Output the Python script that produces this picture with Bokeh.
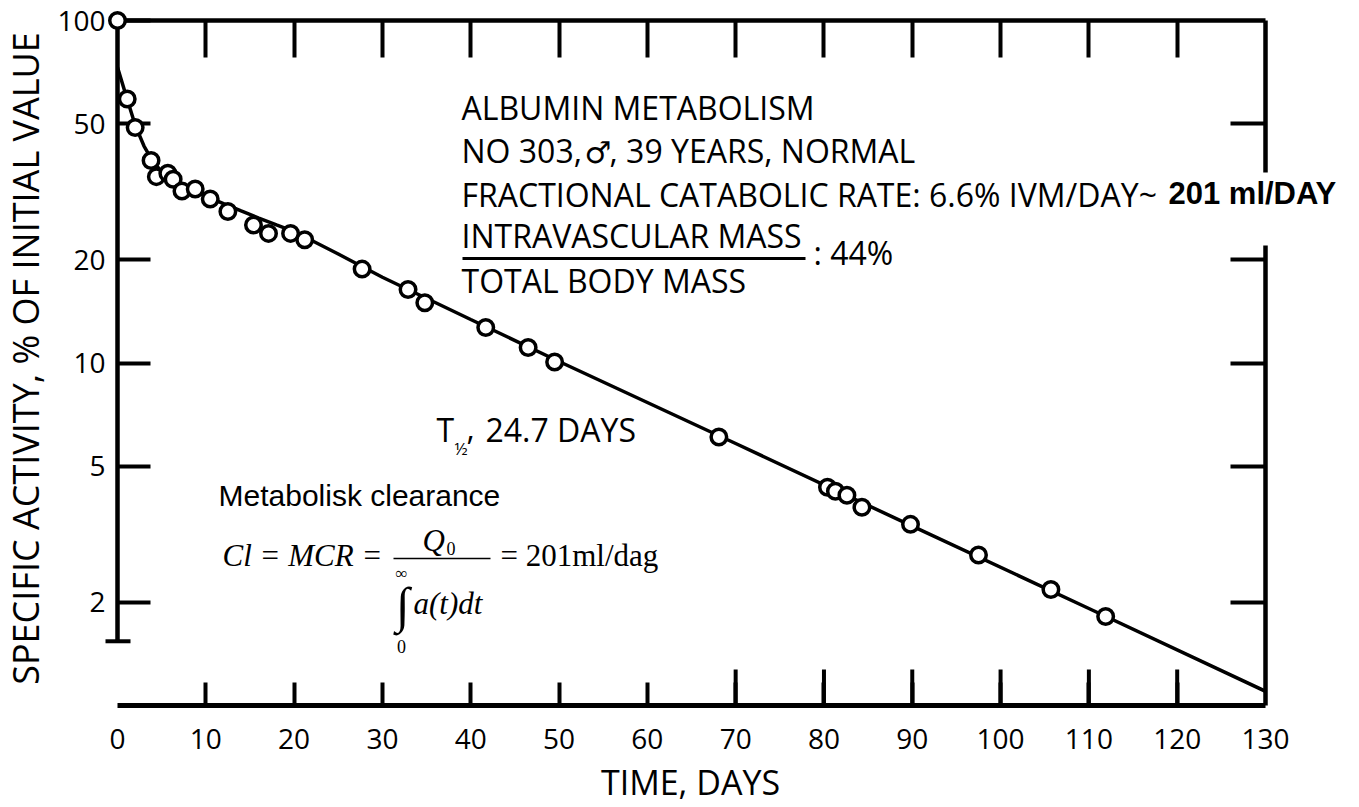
import math
from bokeh.plotting import figure
from bokeh.models import (Range1d, FixedTicker, PrintfTickFormatter, LogAxis,
                          LinearAxis, Label)
from bokeh.core.properties import value
from bokeh.embed import file_html
from bokeh.resources import INLINE

# ---------------- data ----------------
days = [0, 1.1, 2.0, 3.8, 4.4, 5.7, 6.3, 7.3, 8.8, 10.5, 12.5, 15.4, 17.1,
        19.6, 21.2, 27.7, 32.9, 34.8, 41.7, 46.5, 49.5, 68.1, 80.4, 81.3,
        82.6, 84.3, 89.8, 97.5, 105.7, 111.9]
activity = [100, 59, 48.7, 39, 35, 35.8, 34.4, 31.8, 32.2, 30.1, 27.7, 25.3,
            23.9, 23.9, 22.9, 18.8, 16.4, 15.0, 12.7, 11.1, 10.07, 6.08, 4.34,
            4.22, 4.11, 3.79, 3.38, 2.75, 2.18, 1.82]
curve_days = [0, 1, 2, 3, 4, 5, 6, 7, 8, 10, 12, 14, 16, 18, 20, 25, 30, 40,
              50, 70, 90, 110, 130]
curve_pct = [73, 60, 49.5, 43, 38.8, 36.2, 34.6, 33.4, 32.4, 30.7, 29.2, 27.8,
             26.5, 25.3, 24.2, 20.8, 17.8, 13.4, 10.1, 5.82, 3.34, 1.92, 1.10]
x_ticks = [0, 10, 20, 30, 40, 50, 60, 70, 80, 90, 100, 110, 120, 130]
x_short_ticks = [10, 20, 30, 40, 50, 60]
x_long_ticks = [70, 80, 90, 100, 110, 120]
top_ticks = [10, 20, 30, 40, 50, 60, 70, 80, 90, 100, 110, 120]
y_ticks = [2, 5, 10, 20, 50, 100]
y_right_ticks = [2, 5, 10, 20, 50]
x_title = "TIME, DAYS"
y_title = "SPECIFIC ACTIVITY, % OF INITIAL VALUE"

# ---------------- geometry ----------------
W, H = 1359, 807
L, R, T, B = 117, 1265, 20, 705
X0, X1 = 0, 130
Y0, Y1 = 1.0, 100.0
LY0, LY1 = math.log10(Y0), math.log10(Y1)


def dx(px):
    return X0 + (px - L) / (R - L) * (X1 - X0)


def dy(py):
    return 10 ** (LY1 - (py - T) / (B - T) * (LY1 - LY0))


FONT = "Open Sans"
SANS = "Liberation Sans"
SERIF = "Liberation Serif"

p = figure(width=W, height=H, x_range=Range1d(X0, X1), y_range=Range1d(Y0, Y1),
           y_axis_type="log", output_backend="svg", toolbar_location=None,
           min_border_left=L, min_border_right=W - R, min_border_top=T,
           min_border_bottom=H - B)
p.outline_line_color = None
p.xgrid.visible = False
p.ygrid.visible = False
p.background_fill_color = "white"
p.border_fill_color = "white"

# left axis
ya = p.yaxis[0]
ya.ticker = FixedTicker(ticks=y_ticks, minor_ticks=[])
ya.formatter = PrintfTickFormatter(format="%d")
ya.bounds = (1.54, 100)
ya.axis_line_width = 4.5
ya.major_tick_line_width = 4
ya.major_tick_in = 33
ya.major_tick_out = 0
ya.minor_tick_line_color = None
ya.major_label_text_font = FONT
ya.major_label_text_font_size = "28px"
ya.major_label_text_color = "black"
ya.major_label_standoff = 12

# bottom axis
xa = p.xaxis[0]
xa.ticker = FixedTicker(ticks=x_ticks, minor_ticks=x_short_ticks + x_long_ticks)
xa.axis_line_width = 5
xa.major_tick_in = 0
xa.major_tick_out = 0
xa.minor_tick_in = 23
xa.minor_tick_out = 0
xa.minor_tick_line_width = 4
xa.major_label_text_font = FONT
xa.major_label_text_font_size = "28px"
xa.major_label_text_color = "black"
xa.major_label_standoff = 23

# top axis (ticks only)
ta = LinearAxis(ticker=FixedTicker(ticks=top_ticks, minor_ticks=[]),
                major_label_overrides={t: "" for t in top_ticks},
                major_label_text_font_size="0px", major_label_standoff=0,
                axis_line_width=4.5, major_tick_line_width=4,
                major_tick_in=37, major_tick_out=0, minor_tick_line_color=None)
p.add_layout(ta, "above")

# right axis (ticks only; its line is drawn in two pieces below)
ra = LogAxis(ticker=FixedTicker(ticks=y_right_ticks, minor_ticks=[]),
             major_label_overrides={t: "" for t in y_right_ticks},
             major_label_text_font_size="0px", major_label_standoff=0,
             axis_line_color=None, major_tick_line_width=4,
             major_tick_in=35, major_tick_out=0, minor_tick_line_color=None)
p.add_layout(ra, "right")

# axis titles (drawn as text so that the frame keeps its place)
xt = p.text(x=[dx(690)], y=[dy(781)], text=[x_title], text_font=value(FONT),
            text_font_size="34px", text_color="black", text_align="center",
            text_baseline="middle")
xt.level = "overlay"
yt = p.text(x=[dx(25)], y=[dy(358)], text=[y_title], text_font=value(FONT),
            text_font_size="36px", text_color="black", text_align="center",
            text_baseline="middle", angle=math.pi / 2)
yt.level = "overlay"


def seg(x0, y0, x1, y1, w):
    r = p.segment(x0=[x0], y0=[y0], x1=[x1], y1=[y1], line_width=w,
                  line_color="black")
    r.level = "overlay"


# right axis line, broken where the bold text sits
seg(X1, Y0, X1, dy(245), 4.5)
seg(X1, dy(172), X1, Y1, 4.5)
# small cross stub at the bottom of the left axis
seg(dx(105), 1.54, dx(130), 1.54, 4)

# longer bottom ticks 70..120
p.segment(x0=x_long_ticks, y0=[Y0] * len(x_long_ticks), x1=x_long_ticks,
          y1=[dy(B - 36)] * len(x_long_ticks), line_width=4, line_color="black")

# fitted curve and data points
p.line(curve_days, curve_pct, line_width=3.5, line_color="black")
pts = p.scatter(days, activity, marker="circle", size=15.5, fill_color="white",
                line_color="black", line_width=3.5)
pts.level = "overlay"

# empirical shift of the alphabetic baseline per font family
SHIFT = {FONT: 0.40, SANS: 0.40, SERIF: 0.33, "DejaVu Sans": 0.38}


def lab(text, px, py, size, font=FONT, style="normal", align="left",
        baseline="alphabetic"):
    if baseline == "alphabetic":
        py = py - SHIFT[font] * size
    lb = Label(x=dx(px), y=dy(py), text=text, text_font=font,
               text_font_size=f"{size}px", text_font_style=style,
               text_color="black", text_align=align, text_baseline=baseline)
    lb.level = "overlay"
    p.add_layout(lb)


ann = 32
lab("ALBUMIN METABOLISM", 461, 120, ann)
lab("NO 303,", 461, 163, ann)
lab("\u2642", 584, 163, 30, font="DejaVu Sans")
lab(", 39 YEARS, NORMAL", 609, 163, ann)
lab("FRACTIONAL CATABOLIC RATE: 6.6% IVM/DAY~", 461, 207, ann)
lab("INTRAVASCULAR MASS", 461, 248, ann)
lab("TOTAL BODY MASS", 461, 293, ann)
lab(": 44%", 813, 265, ann)
p.segment(x0=[dx(462)], y0=[dy(258)], x1=[dx(805)], y1=[dy(258)],
          line_width=3, line_color="black")

# bold value crossing the right axis (text glyph so it is not clipped)
bt = p.text(x=[dx(1168)], y=[dy(193)], text=["201 ml/DAY"],
            text_font=value(SANS), text_font_size="31px",
            text_font_style="bold", text_color="black", text_align="left",
            text_baseline="middle")
bt.level = "overlay"

# half-life
lab("T", 436, 442, ann)
lab("\u00bd", 454, 455, 17)
lab(",", 466, 440, ann)
lab("24.7 DAYS", 485, 442, ann)

# clearance formula
lab("Metabolisk clearance", 218, 507, 30, font=SANS)
lab("Cl = MCR =", 222, 565, 31, font=SERIF, style="italic")
lab("Q", 422, 550, 31, font=SERIF, style="italic")
lab("0", 446, 554, 18, font=SERIF)
p.segment(x0=[dx(393)], y0=[dy(558)], x1=[dx(490)], y1=[dy(558)],
          line_width=1.5, line_color="black")
lab("= 201ml/dag", 500, 565, 31, font=SERIF)
lab("\u221e", 401, 573, 17, font=SERIF, align="center", baseline="middle")
lab("\u222b", 402, 604, 50, font=SERIF, align="center", baseline="middle")
lab("0", 401, 646, 18, font=SERIF, align="center", baseline="middle")
lab("a(t)dt", 413, 613, 31, font=SERIF, style="italic")

open("out.html", "w").write(file_html(p, INLINE))
